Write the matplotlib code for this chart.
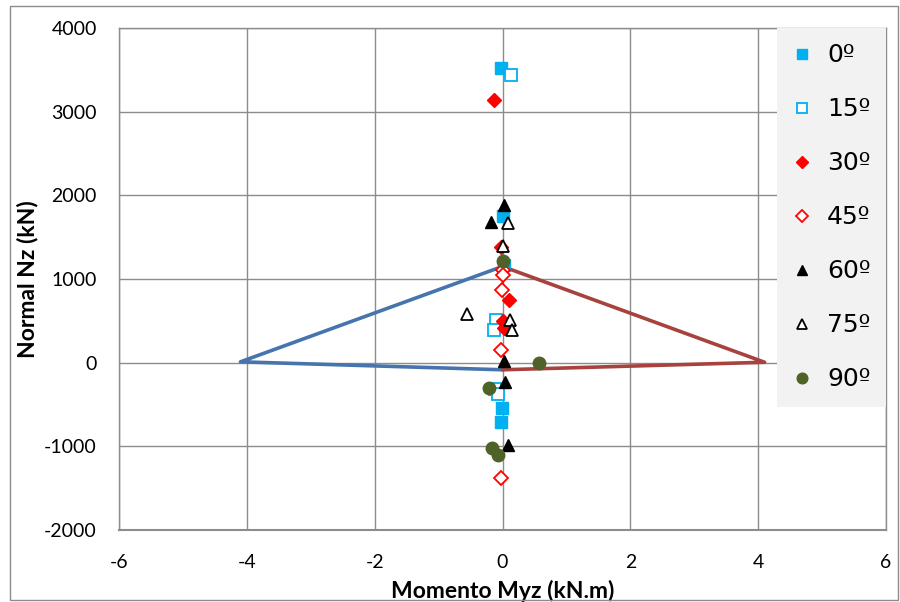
import matplotlib
matplotlib.use("Agg")
import matplotlib.pyplot as plt
from matplotlib.patches import Rectangle

plt.rcParams['font.family'] = ['Lato', 'DejaVu Sans']
plt.rcParams['axes.unicode_minus'] = False

# Interaction envelope lines
blue_x = [0.0, -4.1, 0.0]
blue_y = [1150, 10, -85]
red_x = [0.0, 4.1, 0.0]
red_y = [1150, 5, -85]

# Series (angle -> points)
labels = ['0º', '15º', '30º', '45º', '60º', '75º', '90º']
x0 = [-0.03, 0.01, 0.03, -0.01, -0.02]
y0 = [3520, 1750, 1165, -540, -714]
x15 = [0.14, -0.10, -0.13, -0.12, -0.07]
y15 = [3437, 514, 395, -320, -370]
x30 = [-0.14, -0.02, 0.10, 0.00, 0.02]
y30 = [3142, 1380, 745, 502, 410]
x45 = [0.01, 0.01, -0.01, -0.03, -0.03]
y45 = [1110, 1045, 870, 155, -1379]
x60 = [0.02, -0.18, 0.02, 0.04, 0.08]
y60 = [1885, 1683, 20, -235, -981]
x75 = [0.08, 0.01, -0.55, 0.11, 0.15]
y75 = [1670, 1400, 586, 514, 395]
x90 = [0.00, 0.57, -0.21, -0.17, -0.07]
y90 = [1210, -5, -305, -1021, -1109]

xticks = [-6, -4, -2, 0, 2, 4, 6]
yticks = [-2000, -1000, 0, 1000, 2000, 3000, 4000]

fig = plt.figure(figsize=(9, 6.02), dpi=100)
ax = fig.add_axes([119/900, (602-530)/602, (886-119)/900, (530-28)/602])

grid_c = '#8c8c8c'
ax.set_xlim(-6, 6)
ax.set_ylim(-2000, 4000)
ax.set_xticks(xticks)
ax.set_yticks(yticks)
ax.grid(True, color=grid_c, linewidth=1.0)
ax.set_axisbelow(True)
for s in ax.spines.values():
    s.set_color(grid_c)
    s.set_linewidth(1.0)
ax.spines['bottom'].set_linewidth(1.5)
ax.tick_params(axis='y', length=0, labelsize=14, pad=16)
ax.tick_params(axis='x', length=0, labelsize=14, pad=17)

ax.plot(blue_x, blue_y, color='#4674AC', lw=2.6, zorder=2, solid_capstyle='round')
ax.plot(red_x, red_y, color='#A8423F', lw=2.6, zorder=2, solid_capstyle='round')

ms = 8
ax.plot(x0, y0, ls='none', marker='s', ms=ms, mfc='#00B0F0', mec='#00B0F0', label=labels[0], zorder=3)
ax.plot(x15, y15, ls='none', marker='s', ms=ms, mfc='white', mec='#00B0F0', mew=1.3, label=labels[1], zorder=3)
ax.plot(x30, y30, ls='none', marker='D', ms=ms-1, mfc='#FF0000', mec='#FF0000', label=labels[2], zorder=3)
ax.plot(x45, y45, ls='none', marker='D', ms=ms-1, mfc='white', mec='#FF0000', mew=1.3, label=labels[3], zorder=3)
ax.plot(x60, y60, ls='none', marker='^', ms=ms+1, mfc='black', mec='black', label=labels[4], zorder=3)
ax.plot(x75, y75, ls='none', marker='^', ms=ms+1, mfc='white', mec='black', mew=1.3, label=labels[5], zorder=3)
ax.plot(x90, y90, ls='none', marker='o', ms=ms+1, mfc='#4F6228', mec='#4F6228', label=labels[6], zorder=3)

ax.set_xlabel('Momento Myz (kN.m)', fontsize=16.5, fontweight='bold', labelpad=7)
ax.set_ylabel('Normal Nz (kN)', fontsize=16.5, fontweight='bold', labelpad=4)

leg = ax.legend(loc='upper right', bbox_to_anchor=(1.0, 1.0),
                prop={'family': ['DejaVu Sans'], 'size': 18},
                frameon=True, fancybox=False, framealpha=1.0,
                facecolor='#f2f2f2', edgecolor='none', labelspacing=1.2,
                handlelength=0.8, handletextpad=0.6, borderpad=0.62,
                borderaxespad=0.0, markerscale=0.85)

fig.patches.append(Rectangle((10/900, 2/602), 888/900, 594/602,
                             transform=fig.transFigure, fill=False,
                             edgecolor='#8c8c8c', linewidth=1.0))

fig.savefig('out.png', dpi=100)
